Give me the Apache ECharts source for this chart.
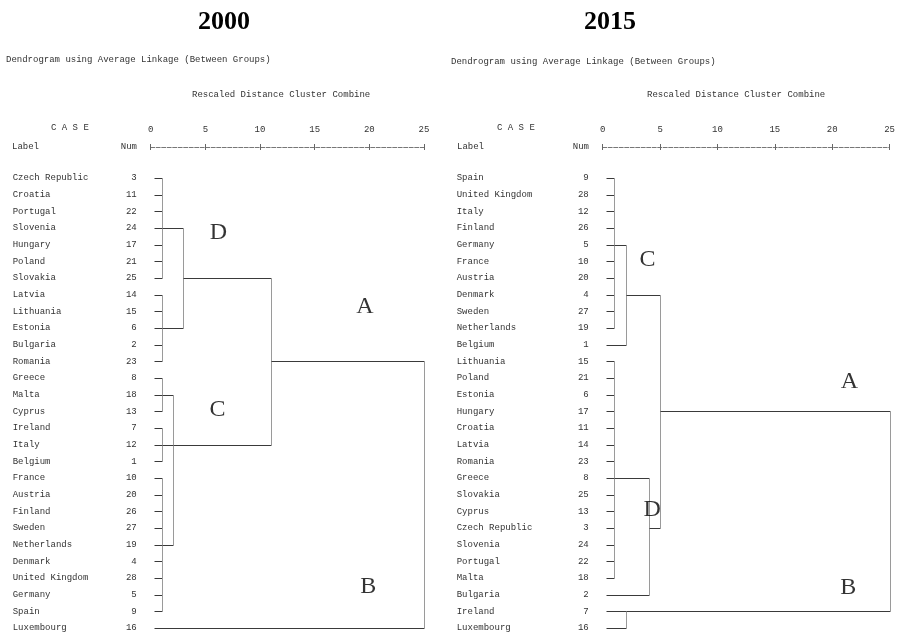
<!DOCTYPE html>
<html><head><meta charset="utf-8">
<script src="https://cdn.jsdelivr.net/npm/echarts@6/dist/echarts.min.js"></script>
<style>html,body{margin:0;padding:0;background:#fff}#c{width:898px;height:635px}</style>
</head><body><div id="c"></div>
<script>
// ---------- DATA ----------
const ticks = [0, 5, 10, 15, 20, 25];

const names2000 = ['Czech Republic','Croatia','Portugal','Slovenia','Hungary','Poland','Slovakia','Latvia','Lithuania','Estonia','Bulgaria','Romania','Greece','Malta','Cyprus','Ireland','Italy','Belgium','France','Austria','Finland','Sweden','Netherlands','Denmark','United Kingdom','Germany','Spain','Luxembourg'];
const nums2000 = [3,11,22,24,17,21,25,14,15,6,2,23,8,18,13,7,12,1,10,20,26,27,19,4,28,5,9,16];
// merges: [height, topRow, bottomRow, outputRow, parentHeight]
const merges2000 = [
  [1, 0, 6, 3, 3],
  [1, 7, 11, 9, 3],
  [3, 3, 9, 6, 11],
  [1, 12, 14, 13, 2],
  [1, 15, 17, 16, 2],
  [1, 18, 26, 22, 2],
  [2, 13, 22, 16, 11],
  [11, 6, 16, 11, 25],
  [25, 11, 27, null, null]
];
// cluster annotations: [x (rescaled distance), row, letter]
const labels2000 = [[6.2, 3.3, 'D'], [19.6, 7.7, 'A'], [6.1, 13.9, 'C'], [19.9, 24.5, 'B']];

const names2015 = ['Spain','United Kingdom','Italy','Finland','Germany','France','Austria','Denmark','Sweden','Netherlands','Belgium','Lithuania','Poland','Estonia','Hungary','Croatia','Latvia','Romania','Greece','Slovakia','Cyprus','Czech Republic','Slovenia','Portugal','Malta','Bulgaria','Ireland','Luxembourg'];
const nums2015 = [9,28,12,26,5,10,20,4,27,19,1,15,21,6,17,11,14,23,8,25,13,3,24,22,18,2,7,16];
const merges2015 = [
  [1, 0, 9, 4, 2],
  [2, 4, 10, 7, 5],
  [1, 11, 24, 18, 4],
  [4, 18, 25, 21, 5],
  [5, 7, 21, 14, 25],
  [2, 26, 27, 26, 25],
  [25, 14, 26, null, null]
];
const labels2015 = [[3.9, 4.9, 'C'], [21.5, 12.2, 'A'], [4.3, 19.9, 'D'], [21.4, 24.6, 'B']];

// ---------- STYLE ----------
const MONO = 'Liberation Mono';
const SERIF = 'Liberation Serif';
const TXT = '#333';
const HCOL = '#3a3a3a';
const VCOL = '#9a9a9a';
const STUB_START = 0.28;

function leafEnds(n, merges) {
  const out = [];
  for (let r = 0; r < n; r++) {
    let best = Infinity;
    merges.forEach(m => { if (r >= m[1] && r <= m[2] && m[0] < best) best = m[0]; });
    out.push([r, STUB_START, best]);
  }
  return out;
}
const px = v => Math.round(v) + 0.5;

function mergeRender(params, api) {
  const h = api.value(0), top = api.value(1), bot = api.value(2);
  const outRow = api.value(3), ph = api.value(4);
  const a = api.coord([h, top]), b = api.coord([h, bot]);
  const children = [{
    type: 'line',
    shape: { x1: px(a[0]), y1: px(a[1]), x2: px(b[0]), y2: px(b[1]) },
    style: { stroke: VCOL, lineWidth: 1 }
  }];
  if (ph != null && !isNaN(ph) && !isNaN(outRow)) {
    const c = api.coord([h, outRow]), d = api.coord([ph, outRow]);
    children.push({
      type: 'line',
      shape: { x1: px(c[0]), y1: px(c[1]), x2: px(d[0]), y2: px(d[1]) },
      style: { stroke: HCOL, lineWidth: 1 }
    });
  }
  return { type: 'group', children };
}
function leafRender(params, api) {
  const r = api.value(0), s = api.value(1), e = api.value(2);
  const a = api.coord([s, r]), b = api.coord([e, r]);
  return {
    type: 'line',
    shape: { x1: px(a[0]), y1: px(a[1]), x2: px(b[0]), y2: px(b[1]) },
    style: { stroke: HCOL, lineWidth: 1 }
  };
}

function panel(gi, names, nums, nameMargin, numMargin) {
  const base = { fontFamily: MONO, fontSize: 9, color: TXT };
  const xAxes = [
    { gridIndex: gi, type: 'value', min: 0, max: 25, interval: 5, position: 'top', offset: 31,
      axisLine: { show: true, onZero: false, lineStyle: { color: '#777', type: [4, 1.5], width: 1 } },
      axisTick: { show: true, length: 3, lineStyle: { color: '#666' } },
      axisLabel: Object.assign({ margin: 13, formatter: v => ticks.indexOf(v) >= 0 ? String(v) : '' }, base),
      splitLine: { show: false } },
    { gridIndex: gi, type: 'value', min: 0, max: 25, interval: 5, position: 'top', offset: 31,
      axisLine: { show: false, onZero: false },
      axisTick: { show: true, inside: true, length: 3, lineStyle: { color: '#666' } },
      axisLabel: { show: false }, splitLine: { show: false } }
  ];
  const yCommon = { gridIndex: gi, type: 'value', position: 'left', offset: 0, min: 0, max: names.length - 1, interval: 1, inverse: true,
    axisLine: { show: false, onZero: false }, axisTick: { show: false }, splitLine: { show: false } };
  const yAxes = [
    Object.assign({}, yCommon, { axisLabel: Object.assign({ margin: nameMargin, align: 'left', formatter: v => names[v] || '' }, base) }),
    Object.assign({}, yCommon, { axisLabel: Object.assign({ margin: numMargin, align: 'right', formatter: v => (nums[v] != null ? String(nums[v]) : '') }, base) })
  ];
  return { xAxes, yAxes };
}

const p1 = panel(0, names2000, nums2000, 138, 14);
const p2 = panel(1, names2015, nums2015, 146, 14);

const series = [];
[[merges2000, names2000, labels2000, 0], [merges2015, names2015, labels2015, 1]].forEach(([m, n, lb, gi]) => {
  const xi = gi * 2, yi = gi * 2;
  series.push({ type: 'custom', xAxisIndex: xi, yAxisIndex: yi, renderItem: leafRender,
    data: leafEnds(n.length, m), silent: true, encode: { x: [1, 2], y: 0 }, animation: false });
  series.push({ type: 'custom', xAxisIndex: xi, yAxisIndex: yi, renderItem: mergeRender,
    data: m.map(r => r.map(v => v == null ? '-' : v)), silent: true, encode: { x: [0, 4], y: [1, 2, 3] }, animation: false });
  series.push({ type: 'scatter', xAxisIndex: xi, yAxisIndex: yi, symbolSize: 0, silent: true, animation: false,
    data: lb.map(d => ({ value: [d[0], d[1]], name: d[2] })),
    label: { show: true, position: 'inside', formatter: p => p.name, fontFamily: SERIF, fontSize: 24, color: '#000' } });
});

const txt = (x, y, text, font, align) => ({ type: 'text', x, y, silent: true,
  style: { text, font, fill: TXT, textAlign: align || 'left', textVerticalAlign: 'middle' } });
const mono = '9px "Liberation Mono"';
const graphic = [
  { type: 'text', x: 224, y: 22, style: { text: '2000', font: 'bold 26px "Liberation Serif"', fill: '#000', textAlign: 'center', textVerticalAlign: 'middle' } },
  { type: 'text', x: 610, y: 22, style: { text: '2015', font: 'bold 26px "Liberation Serif"', fill: '#000', textAlign: 'center', textVerticalAlign: 'middle' } },
  txt(6, 60, 'Dendrogram using Average Linkage (Between Groups)', mono),
  txt(451, 62, 'Dendrogram using Average Linkage (Between Groups)', mono),
  txt(192, 95, 'Rescaled Distance Cluster Combine', mono),
  txt(647, 95, 'Rescaled Distance Cluster Combine', mono),
  txt(51, 128, 'C A S E', mono),
  txt(497, 128, 'C A S E', mono),
  txt(12, 147, 'Label', mono),
  txt(457, 147, 'Label', mono),
  txt(137, 147, 'Num', mono, 'right'),
  txt(589, 147, 'Num', mono, 'right')
];

const chart = echarts.init(document.getElementById('c'), null, { renderer: 'canvas' });
chart.setOption({
  animation: false,
  backgroundColor: '#fff',
  grid: [
    { left: 150.7, top: 178, width: 273.3, height: 450 },
    { left: 602.7, top: 178, width: 290.6, height: 450 }
  ],
  xAxis: p1.xAxes.concat(p2.xAxes),
  yAxis: p1.yAxes.concat(p2.yAxes),
  series,
  graphic
});
</script></body></html>
